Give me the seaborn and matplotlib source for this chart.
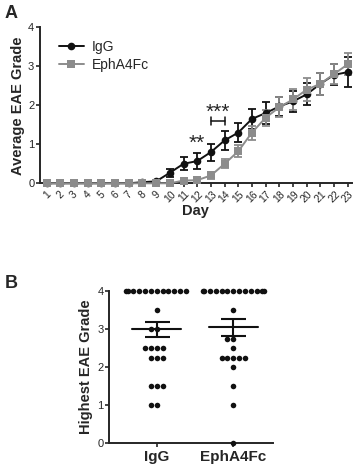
#!/usr/bin/env python3
"""
EAE time course (A) and highest EAE grade per animal (B), IgG vs EphA4Fc.
"""

import numpy as np
import pandas as pd
import matplotlib
matplotlib.use("Agg")
import matplotlib.pyplot as plt
import seaborn as sns

# ------------------------------------------------------------------
# Data
# ------------------------------------------------------------------
days = list(range(1, 24))
igg_mean = [0, 0, 0, 0, 0, 0, 0, 0.03, 0.05, 0.27, 0.5, 0.57, 0.8, 1.1, 1.3,
            1.65, 1.8, 1.97, 2.1, 2.28, 2.55, 2.78, 2.85]
igg_sem = [0, 0, 0, 0, 0, 0, 0, 0.02, 0.03, 0.1, 0.17, 0.2, 0.22, 0.25, 0.25,
           0.25, 0.28, 0.25, 0.26, 0.28, 0.28, 0.27, 0.38]
eph_mean = [0, 0, 0, 0, 0, 0, 0, 0, 0, 0, 0.07, 0.08, 0.2, 0.5, 0.82,
            1.3, 1.68, 1.95, 2.15, 2.4, 2.55, 2.8, 3.05]
eph_sem = [0, 0, 0, 0, 0, 0, 0, 0, 0, 0, 0.03, 0.03, 0.08, 0.12, 0.15,
           0.18, 0.2, 0.25, 0.28, 0.3, 0.28, 0.25, 0.28]

groups = ["IgG", "EphA4Fc"]
igg_highest = [4] * 12 + [3.5, 3, 3, 2.5, 2.5, 2.5, 2.5, 2.25, 2.25, 2.25,
                          1.5, 1.5, 1.5, 1, 1]
eph_highest = [4] * 13 + [3.5, 2.75, 2.75, 2.5, 2.25, 2.25, 2.25, 2.25, 2.25,
                          2, 1.5, 1, 0]

# ------------------------------------------------------------------
# Style
# ------------------------------------------------------------------
sns.set_style("ticks")
plt.rcParams["font.family"] = ["Liberation Sans", "DejaVu Sans"]
plt.rcParams["axes.linewidth"] = 1.4
plt.rcParams["xtick.major.width"] = 1.2
plt.rcParams["ytick.major.width"] = 1.2

black = "#111111"
grey = "#8c8c8c"

fig = plt.figure(figsize=(3.59, 4.70), dpi=100)

# ------------------------------------------------------------------
# Panel A – time course
# ------------------------------------------------------------------
ax1 = fig.add_axes([0.111, 0.610, 0.869, 0.332])
df_a = pd.DataFrame({
    "Day": days * 2,
    "Grade": igg_mean + eph_mean,
    "SEM": igg_sem + eph_sem,
    "Group": ["IgG"] * len(days) + ["EphA4Fc"] * len(days),
})

for name, col, z in [("IgG", black, 3), ("EphA4Fc", grey, 4)]:
    sub = df_a[df_a["Group"] == name]
    ax1.errorbar(sub["Day"], sub["Grade"], yerr=sub["SEM"], fmt="none",
                 ecolor=col, elinewidth=1.3, capsize=3, capthick=1.3,
                 zorder=z, clip_on=False)

sns.lineplot(data=df_a, x="Day", y="Grade", hue="Group", style="Group",
             palette={"IgG": black, "EphA4Fc": grey},
             markers={"IgG": "o", "EphA4Fc": "s"}, dashes=False,
             markersize=5.5, markeredgewidth=0, linewidth=1.4,
             ax=ax1, clip_on=False, zorder=5)

ax1.set_xlim(0.5, 23.3)
ax1.set_ylim(0, 4)
ax1.set_xticks(days)
ax1.set_xticklabels([str(d) for d in days], rotation=45, fontsize=7.5)
ax1.set_yticks([0, 1, 2, 3, 4])
ax1.tick_params(axis="y", labelsize=8, length=3, pad=1)
ax1.tick_params(axis="x", length=3, pad=1)
ax1.set_xlabel("Day", fontsize=10.5, fontweight="bold", labelpad=0)
ax1.set_ylabel("Average EAE Grade", fontsize=10.5, fontweight="bold", labelpad=2)
sns.despine(ax=ax1)

# significance marks
ax1.text(12, 0.78, "**", ha="center", va="bottom", fontsize=15)
ax1.plot([13, 14], [1.6, 1.6], color=black, lw=1.1)
ax1.plot([13, 13], [1.5, 1.7], color=black, lw=1.1)
ax1.plot([14, 14], [1.5, 1.7], color=black, lw=1.1)
ax1.text(13.5, 1.58, "***", ha="center", va="bottom", fontsize=15)

ax1.legend(loc="upper left", bbox_to_anchor=(0.02, 1.0), frameon=False,
           fontsize=10, handlelength=1.8, handletextpad=0.6,
           labelspacing=0.3)

fig.text(0.012, 0.99, "A", fontsize=13, fontweight="bold", va="top")

# ------------------------------------------------------------------
# Panel B – highest grade scatter
# ------------------------------------------------------------------
ax2 = fig.add_axes([0.304, 0.057, 0.457, 0.324])
df_b = pd.DataFrame({
    "Group": ["IgG"] * len(igg_highest) + ["EphA4Fc"] * len(eph_highest),
    "Highest": igg_highest + eph_highest,
})

sns.swarmplot(data=df_b, x="Group", y="Highest", order=groups, color=black,
              size=4.0, ax=ax2, clip_on=False, zorder=3)

for i, vals in enumerate([igg_highest, eph_highest]):
    m = np.mean(vals)
    sem = np.std(vals, ddof=1) / np.sqrt(len(vals))
    ax2.plot([i - 0.32, i + 0.32], [m, m], color=black, lw=1.5, zorder=4)
    ax2.errorbar([i], [m], yerr=[sem], fmt="none", ecolor=black,
                 elinewidth=1.5, capsize=9, capthick=1.5, zorder=4)

ax2.set_xlim(-0.62, 1.52)
ax2.set_ylim(0, 4)
ax2.set_yticks([0, 1, 2, 3, 4])
ax2.tick_params(axis="y", labelsize=8, length=3, pad=1)
ax2.tick_params(axis="x", labelsize=11, length=3, pad=2)
for t in ax2.get_xticklabels():
    t.set_fontweight("bold")
ax2.set_xlabel("")
ax2.set_ylabel("Highest EAE Grade", fontsize=10.5, fontweight="bold", labelpad=3)
sns.despine(ax=ax2)

fig.text(0.012, 0.415, "B", fontsize=13, fontweight="bold", va="top")

# ------------------------------------------------------------------
# Save
# ------------------------------------------------------------------
fig.savefig("out.png", dpi=100)
plt.close(fig)
